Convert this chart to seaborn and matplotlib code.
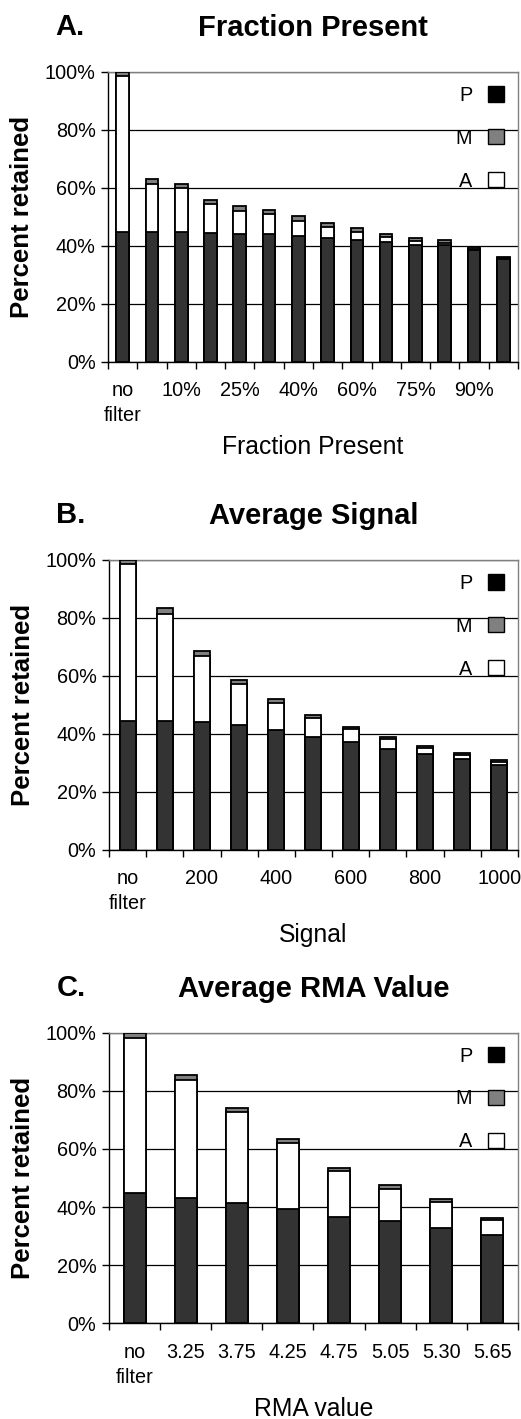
import seaborn as sns
import matplotlib.pyplot as plt
import matplotlib.ticker as mtick
from matplotlib.patches import Patch
import numpy as np
import pandas as pd

# Panel A: fraction present filter
frac_cats = ["no\nfilter", "5%", "10%", "20%", "25%", "30%", "40%",
             "50%", "60%", "70%", "75%", "80%", "90%", "100%"]
frac_p = [44.7, 44.7, 44.7, 44.4, 44.1, 44.0, 43.4, 42.8, 41.9, 41.3, 40.5, 40.2, 38.5, 35.5]
frac_a = [53.8, 16.7, 15.2, 10.0, 8.0, 6.9, 5.3, 3.7, 2.9, 1.8, 1.3, 0.8, 0.6, 0.2]
frac_m = [1.5, 1.8, 1.6, 1.6, 1.6, 1.6, 1.5, 1.4, 1.3, 1.0, 0.9, 0.9, 0.7, 0.5]

# Panel B: average signal filter
sig_cats = ["no\nfilter", "100", "200", "300", "400", "500", "600", "700", "800", "900", "1000"]
sig_p = [44.6, 44.6, 44.1, 43.0, 41.4, 39.1, 37.1, 34.9, 33.1, 31.3, 29.2]
sig_a = [53.9, 36.9, 22.9, 14.2, 9.4, 6.5, 4.5, 3.3, 2.1, 1.5, 1.1]
sig_m = [1.5, 1.8, 1.6, 1.4, 1.2, 1.1, 0.9, 0.8, 0.7, 0.6, 0.6]

# Panel C: average RMA value filter
rma_cats = ["no\nfilter", "3.25", "3.75", "4.25", "4.75", "5.05", "5.30", "5.65"]
rma_p = [44.7, 43.1, 41.5, 39.3, 36.7, 35.1, 32.9, 30.3]
rma_a = [53.5, 40.8, 31.2, 22.7, 15.6, 11.3, 8.8, 5.1]
rma_m = [1.8, 1.5, 1.5, 1.4, 1.1, 1.2, 1.0, 0.8]

sns.set_style("white")
plt.rcParams["font.family"] = ["Liberation Sans", "DejaVu Sans"]
plt.rcParams["text.color"] = "black"
plt.rcParams["axes.labelcolor"] = "black"
plt.rcParams["xtick.color"] = "black"
plt.rcParams["ytick.color"] = "black"

TICK_FS = 14.3
LABEL_FS = 17.8
YLABEL_FS = 18.5
TITLE_FS = 21


def draw_panel(ax, cats, p, a, m, letter, title, xlabel, step):
    df = pd.DataFrame({"cat": cats, "P": p, "A": a, "M": m})
    df["PA"] = df["P"] + df["A"]
    df["PAM"] = df["PA"] + df["M"]

    common = dict(data=df, x="cat", order=cats, width=0.43, saturation=1,
                  edgecolor="black", linewidth=1.3, errorbar=None, ax=ax, zorder=3)
    # stacked by overdrawing: total first, then P+A, then P
    sns.barplot(y="PAM", color="#808080", **common)
    sns.barplot(y="PA", color="white", **common)
    sns.barplot(y="P", color="#333333", **common)

    n = len(cats)
    ax.set_xlim(-0.5, n - 0.5)
    ax.set_ylim(0, 100)
    ax.set_yticks(np.arange(0, 101, 20))
    ax.yaxis.set_major_formatter(mtick.PercentFormatter(decimals=0))
    ax.set_xticks(range(n))
    ax.set_xticklabels([c if i % step == 0 else "" for i, c in enumerate(cats)],
                       fontsize=TICK_FS, linespacing=1.4)
    ax.set_xticks(np.arange(n + 1) - 0.5, minor=True)
    ax.tick_params(axis="x", which="both", bottom=True)
    ax.tick_params(axis="x", which="major", length=0, pad=14)
    ax.tick_params(axis="x", which="minor", length=5, width=1, color="black", direction="out")
    ax.tick_params(axis="y", length=5, width=1, color="black", direction="out",
                   labelsize=TICK_FS, pad=4, left=True)

    ax.yaxis.grid(True, color="black", linewidth=0.9)
    ax.set_axisbelow(True)
    for side in ["left", "bottom"]:
        ax.spines[side].set_color("black")
        ax.spines[side].set_linewidth(1.0)
    for side in ["top", "right"]:
        ax.spines[side].set_color("#808080")
        ax.spines[side].set_linewidth(1.0)

    ax.set_xlabel(xlabel, fontsize=LABEL_FS, labelpad=7)
    ax.set_ylabel("Percent retained", fontsize=YLABEL_FS, fontweight="bold", labelpad=8)
    ax.set_title(title, fontsize=TITLE_FS, fontweight="bold", pad=26)
    ax.annotate(letter, xy=(0, 1), xycoords="axes fraction", xytext=(-38, 37),
                textcoords="offset pixels", ha="center", va="baseline",
                fontsize=TITLE_FS, fontweight="bold")

    handles = [Patch(facecolor="black", edgecolor="black"),
               Patch(facecolor="#808080", edgecolor="black"),
               Patch(facecolor="white", edgecolor="black")]
    ax.legend(handles, ["P", "M", "A"], loc="upper right", frameon=False,
              markerfirst=False, fontsize=TICK_FS, handlelength=0.8, handleheight=0.8,
              handletextpad=0.8, labelspacing=1.2, borderaxespad=0.3)


fig = plt.figure(figsize=(5.21, 14.19), dpi=100)
ax_a = fig.add_axes([0.2073, 0.7449, 0.7869, 0.2044])
ax_b = fig.add_axes([0.2092, 0.4010, 0.7850, 0.2044])
ax_c = fig.add_axes([0.2092, 0.0674, 0.7850, 0.2048])

draw_panel(ax_a, frac_cats, frac_p, frac_a, frac_m, "A.", "Fraction Present", "Fraction Present", 2)
draw_panel(ax_b, sig_cats, sig_p, sig_a, sig_m, "B.", "Average Signal", "Signal", 2)
draw_panel(ax_c, rma_cats, rma_p, rma_a, rma_m, "C.", "Average RMA Value", "RMA value", 1)

fig.savefig("out.png", dpi=100)
